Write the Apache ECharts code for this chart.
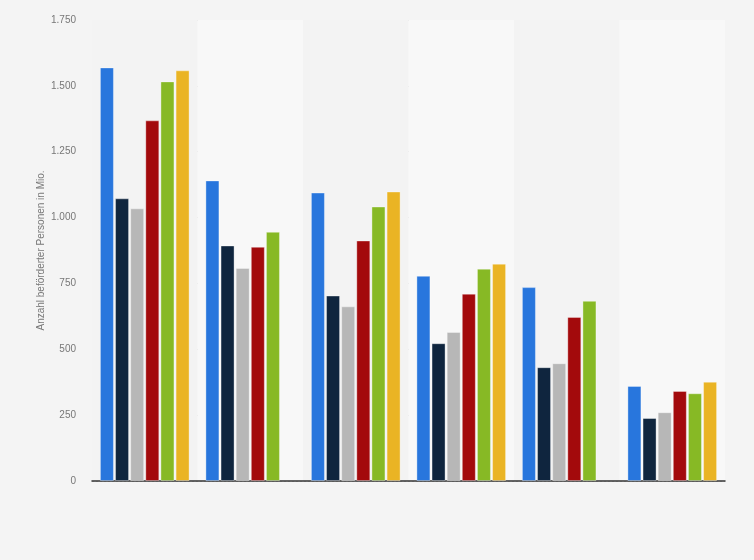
<!DOCTYPE html>
<html>
<head>
<meta charset="utf-8">
<script src="https://cdn.jsdelivr.net/npm/echarts@6/dist/echarts.min.js"></script>
<style>
  html, body { margin: 0; padding: 0; background: #f4f4f4; }
  #chart { width: 754px; height: 560px; }
</style>
</head>
<body>
<div id="chart"></div>
<script>
// Kategorien (ohne Beschriftung im Original)
const categories = ['1', '2', '3', '4', '5', '6'];
const yTicks = [0, 250, 500, 750, 1000, 1250, 1500, 1750];

// Werte je Reihe, in Mio.
const seriesBlue   = [1570, 1141, 1095, 779, 736, 361];
const seriesNavy   = [1073, 894, 704, 523, 432, 239];
const seriesGray   = [1035, 809, 663, 566, 447, 261];
const seriesRed    = [1369, 889, 913, 711, 623, 342];
const seriesGreen  = [1517, 946, 1042, 806, 684, 333];
const seriesYellow = [1559, null, 1099, 825, null, 377];

const colors = ['#2876dd', '#0f253e', '#b7b7b7', '#a30a0c', '#87b925', '#eab424'];
const allSeries = [seriesBlue, seriesNavy, seriesGray, seriesRed, seriesGreen, seriesYellow];

const chart = echarts.init(document.getElementById('chart'));
chart.setOption({
  backgroundColor: '#f4f4f4',
  animation: false,
  grid: { left: 92, right: 29, top: 20, bottom: 79 },
  xAxis: {
    type: 'category',
    data: categories,
    axisLine: { lineStyle: { color: '#333', width: 1.5 } },
    axisTick: { show: false },
    axisLabel: { show: false },
    splitArea: { show: true, areaStyle: { color: ['#f3f3f3', '#f8f8f8'] } }
  },
  yAxis: {
    type: 'value',
    min: 0,
    max: 1750,
    interval: 250,
    name: 'Anzahl beförderter Personen in Mio.',
    nameLocation: 'middle',
    nameGap: 46,
    nameMoveOverlap: false,
    nameTextStyle: { color: '#777', fontSize: 10, fontFamily: 'Liberation Sans' },
    axisLine: { show: false },
    axisTick: { show: false },
    axisLabel: {
      color: '#777',
      fontSize: 10,
      fontFamily: 'Liberation Sans',
      margin: 16,
      formatter: v => yTicks.includes(v) ? v.toLocaleString('de-DE') : ''
    },
    splitLine: { lineStyle: { color: '#d2d2d2', type: [2, 2] } }
  },
  series: allSeries.map((data, i) => ({
    type: 'bar',
    data: data,
    barGap: '8%',
    barCategoryGap: '15%',
    itemStyle: { color: colors[i], borderColor: 'rgba(255,255,255,0.35)', borderWidth: 1 }
  }))
});
</script>
</body>
</html>
